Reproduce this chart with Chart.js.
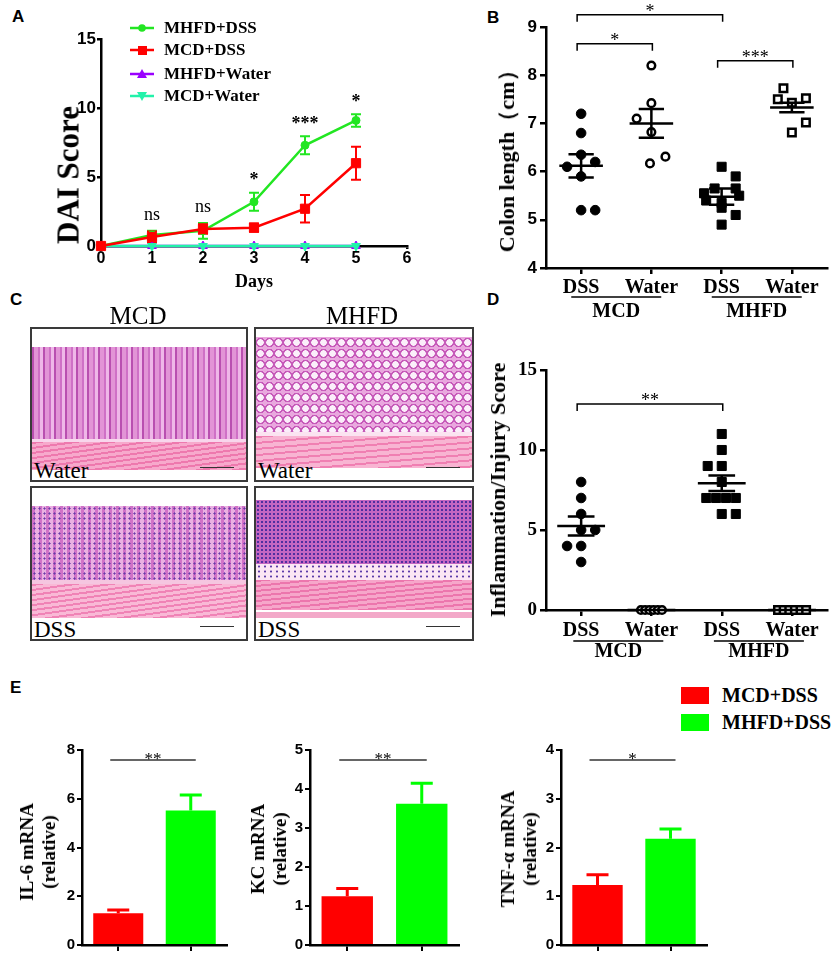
<!DOCTYPE html>
<html lang="en">
<head>
<meta charset="UTF-8">
<title>MCD vs MHFD DSS colitis</title>
<style>
  body { margin: 0; background: #fff; }
  #page { position: relative; width: 835px; height: 956px; overflow: hidden; background: #fff; }
  canvas { position: absolute; }
  .plab { position: absolute; font: bold 17px 'Liberation Sans', Arial, sans-serif; line-height: 17px; }
  .ttl { position: absolute; white-space: nowrap; font-family: 'Liberation Serif', 'Times New Roman', serif; font-weight: bold; line-height: 1; text-align: center; }
  .rot { transform: translate(-50%, -50%) rotate(-90deg); }
  .ctr { transform: translate(-50%, -50%); }
  .leg { position: absolute; left: 130px; height: 20px; font: bold 17px 'Liberation Serif', serif; line-height: 20px; white-space: nowrap; }
  .leg svg { position: absolute; left: 0; top: 0; }
  .leg span { position: absolute; left: 34px; top: 0; }
  .histo { position: absolute; box-sizing: border-box; border: 2px solid #3a3a3a; background: #fff; overflow: hidden; }
  .histo .layer { position: absolute; left: 0; right: 0; }
  .histo .tag { position: absolute; left: 2px; bottom: -2px; font: 23px 'Liberation Serif', serif; line-height: 1; color: #000; }
  .histo .sbar { position: absolute; right: 12px; bottom: 12px; width: 34px; height: 1px; background: #333; }
  .elegbox { position: absolute; left: 681px; width: 28px; height: 17px; }
  .elegtxt { position: absolute; left: 722px; font: bold 20px 'Liberation Serif', serif; line-height: 20px; white-space: nowrap; }
</style>
</head>
<body>
<div id="page">

  <div class="plab" style="left:12px; top:8px;">A</div>
  <div class="plab" style="left:487px; top:9px;">B</div>
  <div class="plab" style="left:10px; top:291px;">C</div>
  <div class="plab" style="left:487px; top:291px;">D</div>
  <div class="plab" style="left:10px; top:679px;">E</div>

  <!-- Panel A -->
  <canvas id="chartA" width="420" height="290" style="left:0; top:0;"></canvas>
  <div class="ttl rot" style="left:68px; top:175px; font-size:31px;">DAI Score</div>
  <div class="ttl ctr" style="left:254px; top:281px; font-size:18px;">Days</div>
  <div id="legendA"></div>

  <!-- Panel B -->
  <canvas id="chartB" width="415" height="325" style="left:420px; top:0;"></canvas>
  <div class="ttl rot" style="left:507px; top:156px; font-size:22px;">Colon length（cm）</div>

  <!-- Panel C -->
  <div class="ttl ctr" style="left:138px; top:315px; font-size:25px; font-weight:normal;">MCD</div>
  <div class="ttl ctr" style="left:362px; top:315px; font-size:25px; font-weight:normal;">MHFD</div>
  <div class="histo" style="left:30px; top:327px; width:218px; height:155px;">
    <div class="layer" style="top:18px; height:92px; background: repeating-linear-gradient(90deg, #b94fb0 0 2px, #e294d6 2px 6px, #cf70c6 6px 8px, #efb7e8 8px 11px);"></div>
    <div class="layer" style="top:110px; height:3px; background:#f8d6ec;"></div>
    <div class="layer" style="top:113px; height:28px; background: repeating-linear-gradient(172deg, #ee79ae 0 2px, #f7a9cc 2px 5px);"></div>
    <div class="sbar"></div><div class="tag">Water</div>
  </div>
  <div class="histo" style="left:254px; top:327px; width:220px; height:155px;">
    <div class="layer" style="top:8px; height:95px; background: radial-gradient(circle, #fbeefa 0 3px, #c65ab9 3.5px 4.5px, #e9a7de 5px) 0 0 / 9px 11px;"></div>
    <div class="layer" style="top:103px; height:4px; background:#fbe3f1;"></div>
    <div class="layer" style="top:107px; height:32px; background: repeating-linear-gradient(175deg, #f07fb2 0 2px, #f8b4d2 2px 6px);"></div>
    <div class="sbar"></div><div class="tag">Water</div>
  </div>
  <div class="histo" style="left:30px; top:486px; width:218px; height:155px;">
    <div class="layer" style="top:18px; height:74px; background: radial-gradient(circle, #6a3aa8 0 0.8px, transparent 1.4px) 0 0 / 5px 5px, repeating-linear-gradient(90deg, #d072c8 0 3px, #eab0e2 3px 7px);"></div>
    <div class="layer" style="top:92px; height:4px; background:#f5c6e0;"></div>
    <div class="layer" style="top:96px; height:34px; background: repeating-linear-gradient(172deg, #f083b6 0 2px, #f9b9d6 2px 5px);"></div>
    <div class="sbar"></div><div class="tag">DSS</div>
  </div>
  <div class="histo" style="left:254px; top:486px; width:220px; height:155px;">
    <div class="layer" style="top:12px; height:64px; background: radial-gradient(circle, #4f2ea0 0 1px, transparent 1.5px) 0 0 / 4px 4px, #c466c2;"></div>
    <div class="layer" style="top:76px; height:16px; background: radial-gradient(circle, #5b3aa8 0 0.8px, transparent 1.3px) 0 0 / 6px 5px, #fbe6f4;"></div>
    <div class="layer" style="top:92px; height:30px; background: repeating-linear-gradient(174deg, #ec76ad 0 2px, #f6a6ca 2px 5px);"></div>
    <div class="layer" style="top:124px; height:6px; background:#f3a9c9;"></div>
    <div class="sbar"></div><div class="tag">DSS</div>
  </div>

  <!-- Panel D -->
  <canvas id="chartD" width="415" height="335" style="left:420px; top:330px;"></canvas>
  <div class="ttl rot" style="left:498px; top:490px; font-size:22px;">Inflammation/Injury Score</div>

  <!-- Panel E -->
  <div class="elegbox" style="top:687px; background:#ff0000;"></div>
  <div class="elegtxt" style="top:685px;">MCD+DSS</div>
  <div class="elegbox" style="top:714px; background:#00ff00;"></div>
  <div class="elegtxt" style="top:712px;">MHFD+DSS</div>

  <canvas id="chartIL6" width="240" height="221" style="left:0; top:735px;"></canvas>
  <canvas id="chartKC" width="240" height="221" style="left:230px; top:735px;"></canvas>
  <canvas id="chartTNF" width="240" height="221" style="left:480px; top:735px;"></canvas>
  <div class="ttl rot" style="left:38px; top:852px; font-size:19px; line-height:22px;">IL-6 mRNA<br>(relative)</div>
  <div class="ttl rot" style="left:269px; top:849px; font-size:19px; line-height:22px;">KC mRNA<br>(relative)</div>
  <div class="ttl rot" style="left:519px; top:849px; font-size:19px; line-height:22px;">TNF-α mRNA<br>(relative)</div>
</div>

<script src="https://cdn.jsdelivr.net/npm/chart.js"></script>
<script>
// ---- Panel A: DAI score over time ----
const aDays = [0, 1, 2, 3, 4, 5];
const aMhfdDss = [0, 0.8, 1.1, 3.2, 7.3, 9.1];
const aMhfdDssErr = [0, 0.3, 0.57, 0.65, 0.65, 0.45];
const aMcdDss = [0, 0.65, 1.23, 1.33, 2.7, 6.0];
const aMcdDssErr = [0, 0.4, 0.35, 0.3, 1.0, 1.2];
const aMhfdWater = [0, 0, 0, 0, 0, 0];
const aMcdWater = [0, 0, 0, 0, 0, 0];
const aSig = ['', 'ns', 'ns', '*', '***', '*'];

// ---- Panel B: colon length ----
const dotCats = ['DSS', 'Water', 'DSS', 'Water'];
const dotDiets = ['MCD', 'MHFD'];
const colonMcdDss = [7.2, 6.8, 6.35, 6.1, 6.2, 5.9, 5.2, 5.2];
const colonMcdDssJit = [0, 0, 0, -0.2, 0.2, 0, 0, 0.2];
const colonMcdWater = [8.2, 7.42, 7.1, 6.82, 6.17, 6.31];
const colonMcdWaterJit = [0, 0, -0.21, 0, -0.02, 0.2];
const colonMhfdDss = [6.1, 5.9, 5.65, 5.65, 5.55, 5.5, 5.4, 5.35, 5.25, 5.1, 4.9];
const colonMhfdDssJit = [0, 0.2, -0.1, 0.2, -0.25, 0.25, -0.22, 0, 0, 0.2, 0];
const colonMhfdWater = [7.73, 7.5, 7.52, 7.43, 7.02, 6.81];
const colonMhfdWaterJit = [-0.12, -0.2, 0.2, 0, 0.2, 0];
const colonMean = [6.12, 7.0, 5.48, 7.33];
const colonSem = [0.24, 0.3, 0.17, 0.1];

// ---- Panel D: inflammation / injury score ----
const injMcdDss = [8, 7, 6, 5, 5, 4, 4, 3];
const injMcdDssJit = [0, 0, 0, 0, 0.2, -0.2, 0, 0];
const injMcdWater = [0, 0, 0, 0, 0, 0];
const injMcdWaterJit = [-0.15, -0.09, -0.03, 0.03, 0.09, 0.15];
const injMhfdDss = [11, 10, 9, 9, 8, 7, 7, 7, 7, 6, 6];
const injMhfdDssJit = [0, 0, -0.2, 0, 0, -0.22, -0.08, 0.06, 0.2, 0, 0.2];
const injMhfdWater = [0, 0, 0, 0, 0, 0];
const injMhfdWaterJit = [-0.2, -0.12, -0.04, 0.04, 0.12, 0.2];
const injMean = [5.25, 0, 7.92, 0];
const injSem = [0.6, 0, 0.48, 0];

// ---- Panel E: mRNA levels ----
const eGroups = ['MCD+DSS', 'MHFD+DSS'];
const eColors = ['#ff0000', '#00ff00'];
const il6 = [1.3, 5.52];
const il6Err = [0.14, 0.63];
const kc = [1.25, 3.62];
const kcErr = [0.2, 0.53];
const tnf = [1.23, 2.18];
const tnfErr = [0.21, 0.2];
const eSig = ['**', '**', '*'];

const serif = "'Liberation Serif', 'Times New Roman', serif";
const sans = "'Liberation Sans', Arial, sans-serif";

Chart.defaults.animation = false;
Chart.defaults.events = [];
Chart.defaults.plugins.legend.display = false;
Chart.defaults.plugins.tooltip.enabled = false;
Chart.defaults.color = '#000';

function axis(opts) {
  return Object.assign({
    grid: { drawOnChartArea: false, drawTicks: true, tickLength: 5, color: '#000', lineWidth: 2.5 },
    border: { display: true, color: '#000', width: 2.5 }
  }, opts);
}

// ---------------- Panel A ----------------
const aSeries = [
  { label: 'MHFD+DSS', vals: aMhfdDss, err: aMhfdDssErr, color: '#22e622', style: 'circle', r: 4, rot: 0, order: 1 },
  { label: 'MCD+DSS', vals: aMcdDss, err: aMcdDssErr, color: '#ff0000', style: 'rect', r: 6.5, rot: 0, order: 0 },
  { label: 'MHFD+Water', vals: aMhfdWater, err: null, color: '#9a00ff', style: 'triangle', r: 5, rot: 0, order: 3 },
  { label: 'MCD+Water', vals: aMcdWater, err: null, color: '#22f2aa', style: 'triangle', r: 5, rot: 180, order: 2 }
];

// HTML legend for A
const legendA = document.getElementById('legendA');
const legTops = [18, 40, 64, 86];
aSeries.forEach((s, i) => {
  let mark;
  if (s.style === 'circle') mark = `<circle cx="12" cy="10" r="3.8" fill="${s.color}"/>`;
  else if (s.style === 'rect') mark = `<rect x="8" y="6" width="9" height="9" fill="${s.color}"/>`;
  else if (s.rot === 0) mark = `<polygon points="12,5 17,14 7,14" fill="${s.color}"/>`;
  else mark = `<polygon points="12,15 17,6 7,6" fill="${s.color}"/>`;
  const row = document.createElement('div');
  row.className = 'leg';
  row.style.top = legTops[i] + 'px';
  row.innerHTML = `<svg width="26" height="20"><line x1="0" y1="10" x2="24" y2="10" stroke="${s.color}" stroke-width="2.5"/>${mark}</svg><span>${s.label}</span>`;
  legendA.appendChild(row);
});

const aErrorBars = {
  id: 'aErrorBars',
  beforeDatasetsDraw(chart) {
    const { ctx, scales: { x, y } } = chart;
    ctx.save();
    ctx.lineWidth = 2;
    aSeries.forEach(s => {
      if (!s.err) return;
      ctx.strokeStyle = s.color;
      s.vals.forEach((v, i) => {
        const e = s.err[i];
        if (!e) return;
        const px = x.getPixelForValue(aDays[i]);
        const top = y.getPixelForValue(v + e), bot = y.getPixelForValue(v - e);
        ctx.beginPath();
        ctx.moveTo(px, top); ctx.lineTo(px, bot);
        ctx.moveTo(px - 5, top); ctx.lineTo(px + 5, top);
        ctx.moveTo(px - 5, bot); ctx.lineTo(px + 5, bot);
        ctx.stroke();
      });
    });
    ctx.restore();
  },
  afterDatasetsDraw(chart) {
    const { ctx, scales: { x, y } } = chart;
    ctx.save();
    ctx.fillStyle = '#000';
    ctx.textAlign = 'center';
    ctx.textBaseline = 'alphabetic';
    aDays.forEach((d, i) => {
      if (!aSig[i]) return;
      const topVal = Math.max(aMhfdDss[i] + aMhfdDssErr[i], aMcdDss[i] + aMcdDssErr[i]);
      const top = y.getPixelForValue(topVal);
      const px = x.getPixelForValue(d);
      if (aSig[i] === 'ns') {
        ctx.font = '18px ' + serif;
        ctx.fillText('ns', px, top - 11);
      } else {
        ctx.font = 'bold 18px ' + serif;
        ctx.fillText(aSig[i], px, top - 13 + 0.3 * 18);
      }
    });
    ctx.restore();
  }
};

new Chart(document.getElementById('chartA'), {
  type: 'line',
  data: {
    datasets: aSeries.map(s => ({
      label: s.label,
      data: aDays.map((d, i) => ({ x: d, y: s.vals[i] })),
      borderColor: s.color,
      backgroundColor: s.color,
      borderWidth: 2.5,
      pointStyle: s.style,
      pointRadius: s.r,
      pointRotation: s.rot,
      pointBackgroundColor: s.color,
      pointBorderColor: s.color,
      pointBorderWidth: 1,
      tension: 0,
      clip: false,
      order: s.order
    }))
  },
  options: {
    responsive: false,
    layout: { padding: { top: 39, right: 13, left: 0, bottom: 0 } },
    scales: {
      x: axis({
        type: 'linear', min: 0, max: 6,
        ticks: { stepSize: 1, padding: 0, font: { family: sans, weight: 'bold', size: 16 } },
        grid: { drawOnChartArea: false, tickLength: 3, color: '#000', lineWidth: 2.5 },
        afterFit: s => { s.height = 44; }
      }),
      y: axis({
        min: 0, max: 15,
        ticks: { stepSize: 5, padding: 1, font: { family: sans, weight: 'bold', size: 17 } },
        grid: { drawOnChartArea: false, tickLength: 4, color: '#000', lineWidth: 2.5 },
        afterFit: s => { s.width = 101; }
      })
    }
  },
  plugins: [aErrorBars]
});

// ---------------- Panels B and D: dot plots ----------------
function dotPlot(canvasId, cfg) {
  const datasets = cfg.series.map((s, gi) => ({
    data: s.vals.map((v, k) => ({ x: gi + 1 + s.jit[k], y: v })),
    pointStyle: s.shape,
    pointRadius: s.shape === 'rect' ? (s.open ? 5.3 : 6.4) : (s.open ? 3.8 : 4.8),
    pointBackgroundColor: s.open ? '#fff' : '#000',
    pointBorderColor: '#000',
    pointBorderWidth: s.open ? 2.5 : 1,
    showLine: false,
    clip: false
  }));

  const overlay = {
    id: 'overlay_' + canvasId,
    afterDatasetsDraw(chart) {
      const { ctx, scales: { x, y } } = chart;
      ctx.save();
      ctx.strokeStyle = '#000';
      ctx.fillStyle = '#000';
      // mean +/- SEM
      ctx.lineWidth = 2.5;
      cfg.mean.forEach((m, i) => {
        const cx = x.getPixelForValue(i + 1);
        const wm = x.getPixelForValue(i + 1 + cfg.meanHalf) - cx;
        const ws = x.getPixelForValue(i + 1 + cfg.semHalf) - cx;
        const py = y.getPixelForValue(m);
        ctx.beginPath();
        ctx.moveTo(cx - wm, py); ctx.lineTo(cx + wm, py);
        if (cfg.sem[i] > 0) {
          const hi = y.getPixelForValue(m + cfg.sem[i]), lo = y.getPixelForValue(m - cfg.sem[i]);
          ctx.moveTo(cx - ws, hi); ctx.lineTo(cx + ws, hi);
          ctx.moveTo(cx - ws, lo); ctx.lineTo(cx + ws, lo);
          ctx.moveTo(cx, hi); ctx.lineTo(cx, lo);
        }
        ctx.stroke();
      });
      // significance brackets
      ctx.lineWidth = 1.5;
      ctx.textAlign = 'center';
      ctx.textBaseline = 'alphabetic';
      ctx.font = '18px ' + serif;
      cfg.brackets.forEach(b => {
        const x1 = x.getPixelForValue(b.from) - 4, x2 = x.getPixelForValue(b.to) + 1;
        const by = y.getPixelForValue(b.level);
        ctx.beginPath();
        ctx.moveTo(x1, by + 7); ctx.lineTo(x1, by); ctx.lineTo(x2, by); ctx.lineTo(x2, by + 7);
        ctx.stroke();
        ctx.fillText(b.text, (x1 + x2) / 2, by - 3 + 0.3 * 18);
      });
      // diet group labels under the axis
      ctx.font = 'bold 20px ' + serif;
      ctx.textBaseline = 'middle';
      ctx.lineWidth = 1.5;
      dotDiets.forEach((name, gi) => {
        const c = (x.getPixelForValue(2 * gi + 1) + x.getPixelForValue(2 * gi + 2)) / 2 + cfg.groupShift;
        const uy = y.bottom + cfg.underOff;
        ctx.beginPath();
        ctx.moveTo(c - 45, uy); ctx.lineTo(c + 45, uy);
        ctx.stroke();
        ctx.fillText(name, c, y.bottom + cfg.labOff);
      });
      ctx.restore();
    }
  };

  return new Chart(document.getElementById(canvasId), {
    type: 'scatter',
    data: { datasets },
    options: {
      responsive: false,
      layout: { padding: { top: cfg.padTop, right: cfg.padRight, left: 0, bottom: 0 } },
      scales: {
        x: axis({
          type: 'linear', min: 0.5, max: 4.5,
          afterBuildTicks: s => { s.ticks = dotCats.map((c, i) => ({ value: i + 1 })); },
          ticks: {
            autoSkip: false, maxRotation: 0, padding: cfg.xPad,
            font: { family: serif, weight: 'bold', size: 20 },
            callback: v => dotCats[Math.round(v) - 1]
          },
          grid: { drawOnChartArea: false, tickLength: 6, color: '#000', lineWidth: 2.5 },
          afterFit: s => { s.height = cfg.xHeight; }
        }),
        y: axis({
          min: cfg.yMin, max: cfg.yMax,
          ticks: { stepSize: cfg.yStep, padding: 3, font: cfg.yFont },
          grid: { drawOnChartArea: false, tickLength: 6, color: '#000', lineWidth: 2.5 },
          afterFit: s => { s.width = 126; }
        })
      }
    },
    plugins: [overlay]
  });
}

dotPlot('chartB', {
  series: [
    { vals: colonMcdDss, jit: colonMcdDssJit, shape: 'circle', open: false },
    { vals: colonMcdWater, jit: colonMcdWaterJit, shape: 'circle', open: true },
    { vals: colonMhfdDss, jit: colonMhfdDssJit, shape: 'rect', open: false },
    { vals: colonMhfdWater, jit: colonMhfdWaterJit, shape: 'rect', open: true }
  ],
  mean: colonMean, sem: colonSem, meanHalf: 0.31, semHalf: 0.18,
  brackets: [
    { from: 1, to: 3, level: 9.256, text: '*' },
    { from: 1, to: 2, level: 8.653, text: '*' },
    { from: 3, to: 4, level: 8.299, text: '***' }
  ],
  yMin: 4, yMax: 9, yStep: 1, yFont: { family: sans, weight: 'bold', size: 17 },
  padTop: 27, padRight: 8, xHeight: 57, xPad: 2,
  underOff: 29, labOff: 44, groupShift: 0
});

dotPlot('chartD', {
  series: [
    { vals: injMcdDss, jit: injMcdDssJit, shape: 'circle', open: false },
    { vals: injMcdWater, jit: injMcdWaterJit, shape: 'circle', open: true },
    { vals: injMhfdDss, jit: injMhfdDssJit, shape: 'rect', open: false },
    { vals: injMhfdWater, jit: injMhfdWaterJit, shape: 'rect', open: true }
  ],
  mean: injMean, sem: injSem, meanHalf: 0.34, semHalf: 0.19,
  brackets: [
    { from: 1, to: 3, level: 12.875, text: '**' }
  ],
  yMin: 0, yMax: 15, yStep: 5, yFont: { family: serif, weight: 'bold', size: 19 },
  padTop: 40, padRight: 5, xHeight: 55, xPad: 3,
  underOff: 31, labOff: 42, groupShift: 2
});

// ---------------- Panel E: bar charts ----------------
function barPanel(canvasId, vals, errs, yMax, yStep, sig, yWidth, padRight) {
  const extras = {
    id: 'extras_' + canvasId,
    afterDatasetsDraw(chart) {
      const { ctx, scales: { x, y } } = chart;
      ctx.save();
      ctx.lineWidth = 3;
      vals.forEach((v, i) => {
        const px = x.getPixelForValue(i);
        const top = y.getPixelForValue(v + errs[i]), base = y.getPixelForValue(v);
        ctx.strokeStyle = eColors[i];
        ctx.beginPath();
        ctx.moveTo(px, base); ctx.lineTo(px, top);
        ctx.moveTo(px - 11, top); ctx.lineTo(px + 11, top);
        ctx.stroke();
      });
      // significance line
      const x1 = x.getPixelForValue(0) - 8, x2 = x.getPixelForValue(1) + 5;
      const ly = y.top + 10;
      ctx.strokeStyle = '#333';
      ctx.lineWidth = 1.5;
      ctx.beginPath();
      ctx.moveTo(x1, ly); ctx.lineTo(x2, ly);
      ctx.stroke();
      ctx.fillStyle = '#000';
      ctx.font = '17px ' + serif;
      ctx.textAlign = 'center';
      ctx.textBaseline = 'alphabetic';
      ctx.fillText(sig, (x1 + x2) / 2, ly - 1 + 0.3 * 17);
      ctx.restore();
    }
  };
  return new Chart(document.getElementById(canvasId), {
    type: 'bar',
    data: {
      labels: eGroups,
      datasets: [{
        data: vals,
        backgroundColor: eColors,
        borderWidth: 0,
        barPercentage: 0.69,
        categoryPercentage: 1
      }]
    },
    options: {
      responsive: false,
      layout: { padding: { top: 15, right: padRight, left: 0, bottom: 0 } },
      scales: {
        x: axis({
          ticks: { callback: () => '' },
          grid: { offset: false, drawOnChartArea: false, tickLength: 6, color: '#000', lineWidth: 2 },
          afterFit: s => { s.height = 10; }
        }),
        y: axis({
          min: 0, max: yMax,
          ticks: { stepSize: yStep, padding: 2, font: { family: "'Liberation Sans Narrow', " + sans, weight: 'bold', size: 15 } },
          grid: { drawOnChartArea: false, tickLength: 5, color: '#000', lineWidth: 2 },
          afterFit: s => { s.width = yWidth; }
        })
      }
    },
    plugins: [extras]
  });
}

barPanel('chartIL6', il6, il6Err, 8, 2, eSig[0], 82, 13);
barPanel('chartKC', kc, kcErr, 5, 1, eSig[1], 80, 11);
barPanel('chartTNF', tnf, tnfErr, 4, 1, eSig[2], 81, 13);
</script>
</body>
</html>
